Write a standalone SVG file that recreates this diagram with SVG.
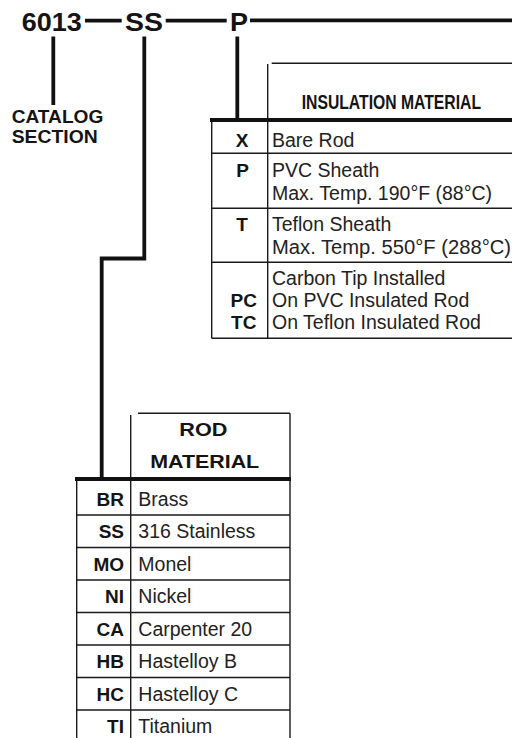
<svg xmlns="http://www.w3.org/2000/svg" width="512" height="738" viewBox="0 0 512 738">
<style>
text{font-family:"Liberation Sans",Arial,sans-serif;fill:#141414}
.big{font-size:26.5px;font-weight:bold}
.lbl{font-size:18px;font-weight:bold}
.hdr{font-size:19px;font-weight:bold}
.narrow{font-size:19.5px;font-weight:bold}
.code{font-size:19px;font-weight:bold}
.desc{font-size:19.5px;fill:#222}
.thin{stroke:#1a1a1a;stroke-width:1.4;fill:none}
.thick{stroke:#111;stroke-width:4;fill:none}
.conn{stroke:#111;stroke-width:3.8;fill:none}
</style>
<rect width="512" height="738" fill="#fff"/>
<g id="part-number">
<text class="big" x="21.7" y="30.7" textLength="60" lengthAdjust="spacingAndGlyphs">6013</text>
<text class="big" x="125" y="30.7" textLength="38" lengthAdjust="spacingAndGlyphs">SS</text>
<text class="big" x="230" y="30.7" textLength="18" lengthAdjust="spacingAndGlyphs">P</text>
</g>
<g id="catalog-section">
<text class="lbl" x="11.7" y="123.3" textLength="91.6" lengthAdjust="spacingAndGlyphs">CATALOG</text>
<text class="lbl" x="11.7" y="143.3" textLength="86" lengthAdjust="spacingAndGlyphs">SECTION</text>
</g>
<g id="insulation-material">
<path class="thin" d="M271.7,63.3H512M267.7,64V338.3M211.7,120V338.3M211.7,153.3H512M211.7,208.3H512M211.7,262.3H512M211.7,338.3H512"/>
<path class="thick" d="M210,120H512"/>
<text class="narrow" transform="translate(301.7,109) scale(0.807,1)" x="0" y="0">INSULATION MATERIAL</text>
<g text-anchor="middle">
<text class="code" x="242" y="146.7">X</text>
<text class="code" x="242.5" y="177">P</text>
<text class="code" x="242" y="231">T</text>
<text class="code" x="243.7" y="307.3">PC</text>
<text class="code" x="243.7" y="329.3">TC</text>
</g>
<text class="desc" x="272" y="146.7">Bare Rod</text>
<text class="desc" x="272" y="177">PVC Sheath</text>
<text class="desc" x="272" y="200">Max. Temp. 190°F (88°C)</text>
<text class="desc" x="272" y="231">Teflon Sheath</text>
<text class="desc" x="272" y="254" textLength="239" lengthAdjust="spacingAndGlyphs">Max. Temp. 550°F (288°C)</text>
<text class="desc" x="272" y="285">Carbon Tip Installed</text>
<text class="desc" x="272" y="307.3">On PVC Insulated Rod</text>
<text class="desc" x="272" y="329.3">On Teflon Insulated Rod</text>
</g>
<g id="rod-material">
<path class="thin" d="M138,413.3H290M290,413.3V738M130.7,415V738M76.7,479V738M76.7,515H290M76.7,547.5H290M76.7,580H290M76.7,612.5H290M76.7,645H290M76.7,677.5H290M76.7,710H290"/>
<path class="thick" d="M75,479H291"/>
<text class="hdr" x="203.3" y="436" text-anchor="middle" textLength="48" lengthAdjust="spacingAndGlyphs">ROD</text>
<text class="hdr" x="204.7" y="468.3" text-anchor="middle" textLength="109" lengthAdjust="spacingAndGlyphs">MATERIAL</text>
<g text-anchor="end">
<text class="code" x="124" y="505.5">BR</text>
<text class="code" x="124" y="538">SS</text>
<text class="code" x="124" y="570.5">MO</text>
<text class="code" x="124" y="603">NI</text>
<text class="code" x="124" y="635.5">CA</text>
<text class="code" x="124" y="668">HB</text>
<text class="code" x="124" y="700.5">HC</text>
<text class="code" x="124" y="733">TI</text>
</g>
<text class="desc" x="138.3" y="505.5">Brass</text>
<text class="desc" x="138.3" y="538">316 Stainless</text>
<text class="desc" x="138.3" y="570.5">Monel</text>
<text class="desc" x="138.3" y="603">Nickel</text>
<text class="desc" x="138.3" y="635.5">Carpenter 20</text>
<text class="desc" x="138.3" y="668">Hastelloy B</text>
<text class="desc" x="138.3" y="700.5">Hastelloy C</text>
<text class="desc" x="138.3" y="733">Titanium</text>
</g>
<g id="connectors">
<path class="conn" d="M85,20.7H121.7M165.7,20.7H226.7M250,20.3H512" stroke-width="2.8"/>
<path class="conn" d="M53.3,36.5V105"/>
<path class="conn" d="M144.3,36.5V258.5H101.7V479"/>
<path class="conn" d="M237.3,36.5V120"/>
</g>
</svg>
